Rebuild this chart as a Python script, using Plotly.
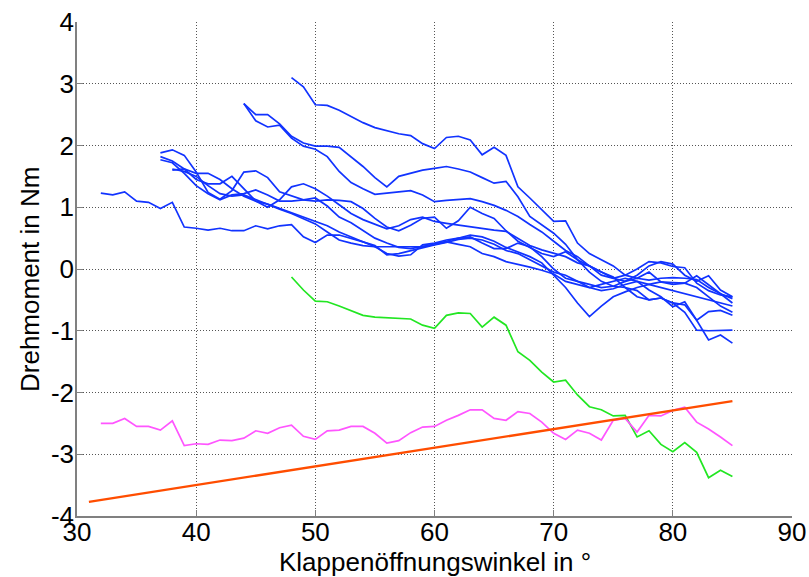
import plotly.graph_objects as go

# Klappenöffnungswinkel (deg) at which each measured run starts; samples every 1 deg
blue_starts = [32, 48, 44, 44, 37, 37, 37, 38, 38]
blue_runs = [
    [1.23, 1.20, 1.25, 1.10, 1.08, 0.98, 1.08, 0.68, 0.66, 0.63, 0.66, 0.62, 0.62, 0.70, 0.65, 0.70, 0.72,
     0.52, 0.43, 0.55, 0.55, 0.50, 0.44, 0.38, 0.23, 0.25, 0.30, 0.35, 0.39, 0.43, 0.48, 0.50, 0.47, 0.40,
     0.30, 0.25, 0.15, 0.05, -0.05, -0.10, -0.20, -0.25, -0.30, -0.28, -0.20, -0.15, -0.18, -0.15, -0.14,
     -0.15, -0.17, -0.30, -0.40, -0.48],
    [3.10, 2.95, 2.66, 2.65, 2.57, 2.47, 2.37, 2.29, 2.24, 2.19, 2.16, 2.03, 1.95, 2.13, 2.15, 2.09, 1.85,
     1.97, 1.84, 1.33, 1.15, 0.96, 0.77, 0.78, 0.42, 0.25, 0.15, 0.05, -0.10, -0.15, -0.05, -0.21, -0.25,
     -0.23, -0.11, -0.25, -0.40, -0.55],
    [2.68, 2.50, 2.50, 2.35, 2.15, 2.04, 1.99, 1.99, 1.97, 1.82, 1.66, 1.48, 1.33, 1.50, 1.55, 1.60, 1.63,
     1.66, 1.62, 1.57, 1.48, 1.39, 1.42, 1.17, 0.85, 0.72, 0.58, 0.40, 0.15, 0.05, -0.05, -0.13, -0.30,
     -0.45, -0.50, -0.47, -0.55, -0.70, -0.99, -1.00, -1.00, -0.99],
    [2.68, 2.40, 2.30, 2.33, 2.12, 1.99, 1.94, 1.82, 1.58, 1.40, 1.30, 1.21, 1.23, 1.25, 1.27, 1.20, 1.09,
     1.11, 1.13, 1.14, 1.09, 1.03, 0.95, 0.85, 0.72, 0.60, 0.45, 0.30, 0.20, 0.05, -0.10, -0.15, -0.10,
     0.00, 0.12, 0.10, 0.04, 0.02, -0.23, -0.35, -0.42, -0.45],
    [1.88, 1.93, 1.84, 1.57, 1.24, 1.13, 1.27, 1.57, 1.59, 1.48, 1.25, 1.18, 1.12, 1.10, 1.12, 1.11, 1.09,
     0.98, 0.82, 0.68, 0.62, 0.71, 0.82, 0.84, 0.66, 0.78, 1.00, 0.90, 0.82, 0.62, 0.45, 0.35, 0.25, 0.20,
     0.28, 0.15, -0.05, -0.20, -0.28, -0.30, -0.35, -0.50, -0.47, -0.55, -0.58, -0.83, -1.15, -1.07, -1.20],
    [1.82, 1.75, 1.62, 1.45, 1.38, 1.38, 1.50, 1.30, 1.10, 1.00, 1.12, 1.33, 1.38, 1.30, 1.18, 1.04, 0.90,
     0.80, 0.72, 0.65, 0.70, 0.80, 0.84, 0.77, 0.74, 0.71, 0.69, 0.66, 0.63, 0.61, 0.50, 0.38, 0.31, 0.25,
     0.20, 0.10, 0.05, -0.05, -0.15, -0.20, -0.10, 0.05, 0.12, 0.08, -0.10, -0.20, -0.11, -0.34, -0.45],
    [1.77, 1.72, 1.55, 1.35, 1.22, 1.12, 1.20, 1.22, 1.28, 1.20, 1.10, 1.10, 1.12, 1.15, 1.02, 0.84, 0.75,
     0.62, 0.50, 0.42, 0.35, 0.33, 0.36, 0.40, 0.45, 0.50, 0.55, 0.52, 0.45, 0.35, 0.28, 0.20, 0.10, -0.10,
     -0.30, -0.55, -0.77, -0.60, -0.45, -0.37, -0.30, -0.25, -0.21, -0.22, -0.23, -0.30, -0.45, -0.60, -0.70],
    [1.60, 1.62, 1.55, 1.55, 1.45, 1.30, 1.18, 1.10, 1.05, 0.98, 0.92, 0.85, 0.78, 0.70, 0.60, 0.52, 0.45,
     0.36, 0.25, 0.21, 0.23, 0.39, 0.42, 0.47, 0.50, 0.52, 0.42, 0.33, 0.33, 0.42, 0.36, 0.20, 0.00, -0.15,
     -0.20, -0.30, -0.35, -0.32, -0.25, -0.20, -0.34, -0.45, -0.61, -0.53, -0.83, -0.69, -0.67, -0.75],
    [1.62, 1.58, 1.50, 1.35, 1.22, 1.18, 1.20, 1.12, 1.05, 0.97, 0.90, 0.82, 0.73, 0.60, 0.47, 0.42, 0.38,
     0.36, 0.36, 0.36, 0.36, 0.36, 0.40, 0.44, 0.40, 0.36, 0.25, 0.20, 0.12, 0.08, 0.03, -0.02, -0.08, -0.20,
     -0.25, -0.30, -0.25, -0.20, -0.15, -0.20, -0.25, -0.30, -0.35, -0.40, -0.45, -0.50, -0.55, -0.60],
]

green_start = 48
green_vals = [-0.13, -0.34, -0.52, -0.53, -0.60, -0.67, -0.75, -0.78, -0.79, -0.80, -0.81, -0.91, -0.96,
              -0.75, -0.71, -0.72, -0.94, -0.78, -0.91, -1.34, -1.48, -1.67, -1.83, -1.80, -2.04, -2.23,
              -2.28, -2.38, -2.37, -2.72, -2.62, -2.84, -2.96, -2.81, -2.97, -3.38, -3.26, -3.36]

magenta_start = 32
magenta_vals = [-2.50, -2.50, -2.42, -2.55, -2.55, -2.61, -2.46, -2.86, -2.83, -2.84, -2.77, -2.78, -2.74,
                -2.62, -2.66, -2.57, -2.53, -2.71, -2.76, -2.62, -2.61, -2.55, -2.55, -2.66, -2.82, -2.78,
                -2.65, -2.56, -2.55, -2.45, -2.37, -2.28, -2.28, -2.42, -2.45, -2.31, -2.34, -2.48, -2.66,
                -2.76, -2.61, -2.66, -2.77, -2.45, -2.42, -2.64, -2.37, -2.38, -2.29, -2.24, -2.48, -2.59,
                -2.72, -2.86]

# linear reference characteristic
ref_angles = [31, 85]
ref_vals = [-3.77, -2.14]

x_ticks = [30, 40, 50, 60, 70, 80, 90]
y_ticks = [-4, -3, -2, -1, 0, 1, 2, 3, 4]

x_title = "Klappenöffnungswinkel in °"
y_title = "Drehmoment in Nm"


def angles(start, vals):
    return list(range(start, start + len(vals)))


fig = go.Figure()

for start, vals in zip(blue_starts, blue_runs):
    fig.add_trace(go.Scatter(x=angles(start, vals), y=vals, mode="lines",
                             line=dict(color="#1133ff", width=1.7), showlegend=False))

fig.add_trace(go.Scatter(x=angles(green_start, green_vals), y=green_vals, mode="lines",
                         line=dict(color="#22e622", width=1.7), showlegend=False))
fig.add_trace(go.Scatter(x=angles(magenta_start, magenta_vals), y=magenta_vals, mode="lines",
                         line=dict(color="#ff55ff", width=1.7), showlegend=False))
fig.add_trace(go.Scatter(x=ref_angles, y=ref_vals, mode="lines",
                         line=dict(color="#ff4d00", width=2.3), showlegend=False))

font_family = "Liberation Sans, Arial, sans-serif"
tick_font = dict(family=font_family, size=26, color="black")
title_font = dict(family=font_family, size=26, color="black")

axis_style = dict(showgrid=True, gridcolor="#555555", griddash="1px,2px", gridwidth=1,
                  showline=True, linecolor="#808080", linewidth=1.5, mirror=False,
                  ticks="inside", ticklen=6, tickcolor="#808080", zeroline=False,
                  automargin=False, tickfont=tick_font)

fig.update_layout(
    width=809, height=577,
    margin=dict(l=77, r=17, t=22, b=61),
    paper_bgcolor="white", plot_bgcolor="white",
    font=tick_font,
    xaxis=dict(range=[30, 90], tickvals=x_ticks, ticktext=[str(v) for v in x_ticks],
               ticklabelstandoff=-8, **axis_style),
    yaxis=dict(range=[-4, 4], tickvals=y_ticks, ticktext=[str(v) for v in y_ticks],
               ticklabelstandoff=-4, **axis_style),
    annotations=[
        dict(text=x_title, xref="paper", yref="paper", x=0.5, y=0, xanchor="center", yanchor="middle",
             yshift=-46, showarrow=False, font=title_font),
        dict(text=y_title, xref="paper", yref="paper", x=0, y=0.5, xanchor="center", yanchor="middle",
             xshift=-47, yshift=-11, textangle=-90, showarrow=False, font=title_font),
    ],
)

fig.write_html("out.html")
